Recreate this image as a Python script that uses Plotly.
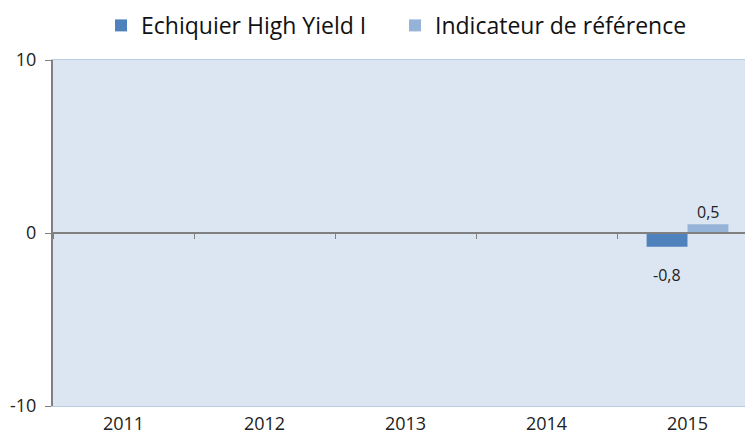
import plotly.graph_objects as go

categories = ["2011", "2012", "2013", "2014", "2015"]
fund_name = "Echiquier High Yield I"
bench_name = "Indicateur de référence"
fund_values = [None, None, None, None, -0.8]
bench_values = [None, None, None, None, 0.5]
y_ticks = [-10, 0, 10]

def fmt(v):
    return ("%.1f" % v).replace(".", ",")

fig = go.Figure()
fig.add_trace(go.Bar(name=fund_name, x=categories, y=fund_values,
                     marker=dict(color="#4F81BD", line=dict(width=0))))
fig.add_trace(go.Bar(name=bench_name, x=categories, y=bench_values,
                     marker=dict(color="#95B3D7", line=dict(width=0))))
# helper trace for the axis drawn at zero
fig.add_trace(go.Scatter(x=categories, y=[None]*5, xaxis="x2", showlegend=False,
                         hoverinfo="skip"))

annotations = []
for vals, off in ((fund_values, -0.5), (bench_values, 0.5)):
    for i, v in enumerate(vals):
        if v is None:
            continue
        annotations.append(dict(
            x=i, y=v, xref="x", yref="y", text=fmt(v), showarrow=False,
            xshift=off * 41, yshift=(-28 if v < 0 else 12),
            xanchor="center", yanchor="middle",
            font=dict(family="Open Sans, sans-serif", size=16, color="#222")))

fig.update_layout(
    width=753, height=431,
    margin=dict(l=45, r=3, t=52, b=33, autoexpand=False),
    paper_bgcolor="white", plot_bgcolor="#DCE6F2",
    barmode="group", bargap=0.42, bargroupgap=0,
    showlegend=True,
    legend=dict(orientation="h", x=(107 - 45 - 14) / 705, xref="paper", xanchor="left",
                y=1.162, yref="paper", yanchor="top",
                font=dict(family="Open Sans, sans-serif", size=23, color="#111"),
                entrywidth=249, entrywidthmode="pixels",
                itemsizing="constant", traceorder="normal"),
    xaxis=dict(type="category", categoryorder="array", categoryarray=categories,
               range=[-0.5, 4.5], showgrid=False, zeroline=False,
               showline=True, linecolor="#B9CDE5", linewidth=1, mirror=True,
               ticks="", ticklabelstandoff=1,
               tickfont=dict(family="Open Sans, sans-serif", size=18, color="#222")),
    xaxis2=dict(type="category", categoryorder="array", categoryarray=categories,
                overlaying="x", matches="x", anchor="free", position=0.5,
                showticklabels=False, showgrid=False, zeroline=False,
                showline=True, linecolor="#808080", linewidth=2,
                ticks="outside", tickson="boundaries", ticklen=5, tickcolor="#808080", tickwidth=1),
    yaxis=dict(range=[-10, 10], tickvals=y_ticks, ticktext=[str(v) for v in y_ticks],
               showgrid=False, zeroline=False, showline=True, linecolor="#808080", linewidth=2,
               ticks="outside", ticklen=6, tickcolor="#808080", ticklabelstandoff=5,
               tickfont=dict(family="Open Sans, sans-serif", size=18, color="#222")),
    annotations=annotations,
)

fig.write_html("out.html")
